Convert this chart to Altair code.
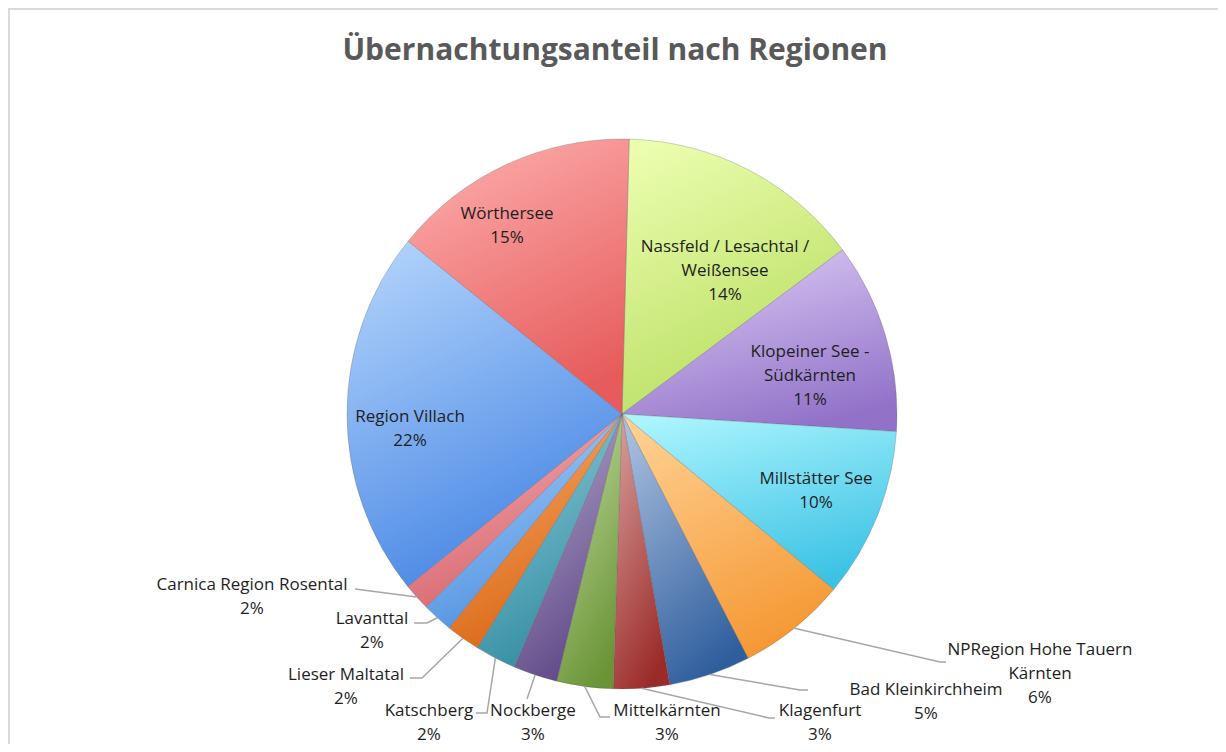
import math
import pandas as pd
import altair as alt

# ---------------- data ----------------
regions = [
    "Nassfeld / Lesachtal / Weißensee",
    "Klopeiner See - Südkärnten",
    "Millstätter See",
    "NPRegion Hohe Tauern Kärnten",
    "Bad Kleinkirchheim",
    "Klagenfurt",
    "Mittelkärnten",
    "Nockberge",
    "Katschberg",
    "Lieser Maltatal",
    "Lavanttal",
    "Carnica Region Rosental",
    "Region Villach",
    "Wörthersee",
]
shares = [14.4, 11.2, 10.0, 6.4, 4.8, 3.3, 3.3, 2.6, 2.4, 2.0, 1.8, 1.6, 21.6, 14.6]

# how Excel wrapped the category names inside the data labels
label_lines = [
    ["Nassfeld / Lesachtal /", "Weißensee"],
    ["Klopeiner See -", "Südkärnten"],
    ["Millstätter See"],
    ["NPRegion Hohe Tauern", "Kärnten"],
    ["Bad Kleinkirchheim"],
    ["Klagenfurt"],
    ["Mittelkärnten"],
    ["Nockberge"],
    ["Katschberg"],
    ["Lieser  Maltatal"],
    ["Lavanttal"],
    ["Carnica Region Rosental"],
    ["Region Villach"],
    ["Wörthersee"],
]

title_text = "Übernachtungsanteil nach Regionen"

# ---------------- styles ----------------
# (light, dark) gradient stops per slice, Excel-2007 look
palette = [
    ("#ebfdae", "#b6dd5e"),
    ("#dccbf6", "#9272c8"),
    ("#aaf4fd", "#3cc2e5"),
    ("#ffd092", "#f59833"),
    ("#aabfdf", "#2f5e9d"),
    ("#d69c9a", "#9b2b29"),
    ("#bfd99d", "#6a9436"),
    ("#b6a8cd", "#5b4484"),
    ("#8fccda", "#2d889e"),
    ("#f8ab6c", "#d8620e"),
    ("#a9cff8", "#4b8ddf"),
    ("#f4acb2", "#d6626b"),
    ("#b0d2fb", "#4383e3"),
    ("#fdacac", "#e65b5b"),
]

W, H = 1210, 736          # drawing area (page margin 8px)
CX, CY = 614, 406         # pie centre inside drawing area
R = 275                   # pie radius (px)
ROT = 1.5                 # first slice angle in degrees
FONT = "Open Sans"
TXT = "#1e1e1e"
LEADER = "#a6a6a6"

# label anchors: centre of the first text line (px relative to pie centre, y down)
label_at = {
    "Nassfeld / Lesachtal / Weißensee": (103, -167),
    "Klopeiner See - Südkärnten": (188, -62),
    "Millstätter See": (194, 65),
    "NPRegion Hohe Tauern Kärnten": (418, 236),
    "Bad Kleinkirchheim": (304, 276),
    "Klagenfurt": (198, 297),
    "Mittelkärnten": (45, 297),
    "Nockberge": (-89, 297),
    "Katschberg": (-193, 297),
    "Lieser Maltatal": (-276, 261),
    "Lavanttal": (-250, 205),
    "Carnica Region Rosental": (-370, 171),
    "Region Villach": (-212, 3),
    "Wörthersee": (-115, -200),
}
# leader-line elbow / end points (px relative to pie centre)
leader_to = {
    "NPRegion Hohe Tauern Kärnten": [(318, 248), (324, 248)],
    "Bad Kleinkirchheim": [(178, 276), (186, 276)],
    "Klagenfurt": [(147, 304), (153, 304)],
    "Mittelkärnten": [(-22, 303), (-12, 303)],
    "Nockberge": [(-95, 285)],
    "Katschberg": [(-135, 299), (-146, 299)],
    "Lieser Maltatal": [(-200, 264), (-212, 264)],
    "Lavanttal": [(-195, 209), (-208, 209)],
    "Carnica Region Rosental": [(-267, 175)],
}

# ---------------- derived tables ----------------
total = sum(shares)
ends = []
acc = 0.0
for v in shares:
    acc += v
    ends.append(acc)
starts = [e - v for e, v in zip(ends, shares)]

slices = pd.DataFrame({"region": regions, "share": shares, "start": starts, "end": ends})

lab_rows = []
for name, lines, v in zip(regions, label_lines, shares):
    x, y = label_at[name]
    lab_rows.append({"region": name, "x": x, "y": y,
                     "text": "\n".join(lines + [f"{round(v)}%"])})
labels = pd.DataFrame(lab_rows)

lead_rows = []
for name, s, e in zip(regions, starts, ends):
    if name not in leader_to:
        continue
    mid = math.radians(ROT + (s + e) / 2 / total * 360)
    pts = [(R * math.sin(mid), -R * math.cos(mid))] + leader_to[name]
    for i, (px, py) in enumerate(pts):
        lead_rows.append({"region": name, "i": i, "x": px, "y": py})
leaders = pd.DataFrame(lead_rows)

# ---------------- scales ----------------
xs = alt.Scale(domain=[-CX, W - CX], range=[0, W], nice=False, zero=False)
ys = alt.Scale(domain=[-CY, H - CY], range=[0, H], nice=False, zero=False)
ts = alt.Scale(domain=[0, total],
               range=[math.radians(ROT), math.radians(ROT) + 2 * math.pi])

layers = []

# chart-area frame (Excel chart border, left and top visible)
layers.append(alt.Chart(slices).mark_rule(color="#d9d9d9", strokeWidth=1.5).encode(
    x=alt.value(0.5), y=alt.value(0), y2=alt.value(H)))
layers.append(alt.Chart(slices).mark_rule(color="#d9d9d9", strokeWidth=1.5).encode(
    x=alt.value(0), x2=alt.value(W), y=alt.value(0.5)))

# pie slices, one layer each for its own gradient
for name, (light, dark) in zip(regions, palette):
    grad = alt.Gradient(
        gradient="linear",
        stops=[alt.GradientStop(color=light, offset=0),
               alt.GradientStop(color=dark, offset=1)],
        x1=0.2, y1=0, x2=0.6, y2=1,
    )
    layers.append(
        alt.Chart(slices)
        .transform_filter(alt.datum.region == name)
        .mark_arc(fill=grad, radius=R, stroke="#5a5a5a", strokeOpacity=0.35, strokeWidth=0.8)
        .encode(
            theta=alt.Theta("start:Q", scale=ts),
            theta2="end:Q",
            x=alt.X(datum=0, type="quantitative", scale=xs, axis=None),
            y=alt.Y(datum=0, type="quantitative", scale=ys, axis=None),
        )
    )

# leader lines
layers.append(
    alt.Chart(leaders).mark_line(color=LEADER, strokeWidth=1.5).encode(
        x=alt.X("x:Q", scale=xs, axis=None),
        y=alt.Y("y:Q", scale=ys, axis=None),
        detail="region:N",
        order="i:Q",
    )
)

# data labels
layers.append(
    alt.Chart(labels).mark_text(
        font=FONT, fontSize=17, color=TXT, lineBreak="\n", lineHeight=24,
        align="center", baseline="middle",
    ).encode(
        x=alt.X("x:Q", scale=xs, axis=None),
        y=alt.Y("y:Q", scale=ys, axis=None),
        text="text:N",
    )
)

# title
layers.append(
    alt.Chart(pd.DataFrame({"t": [title_text]})).mark_text(
        font=FONT, fontSize=30, fontWeight="bold", color="#595959",
        align="center", baseline="middle",
    ).encode(x=alt.value(607), y=alt.value(43), text="t:N")
)

chart = (
    alt.layer(*layers)
    .properties(width=W, height=H, autosize="none", padding=0, background="white")
    .configure_view(stroke=None)
)

chart.save("out.html", embed_options={"renderer": "svg", "actions": False})
